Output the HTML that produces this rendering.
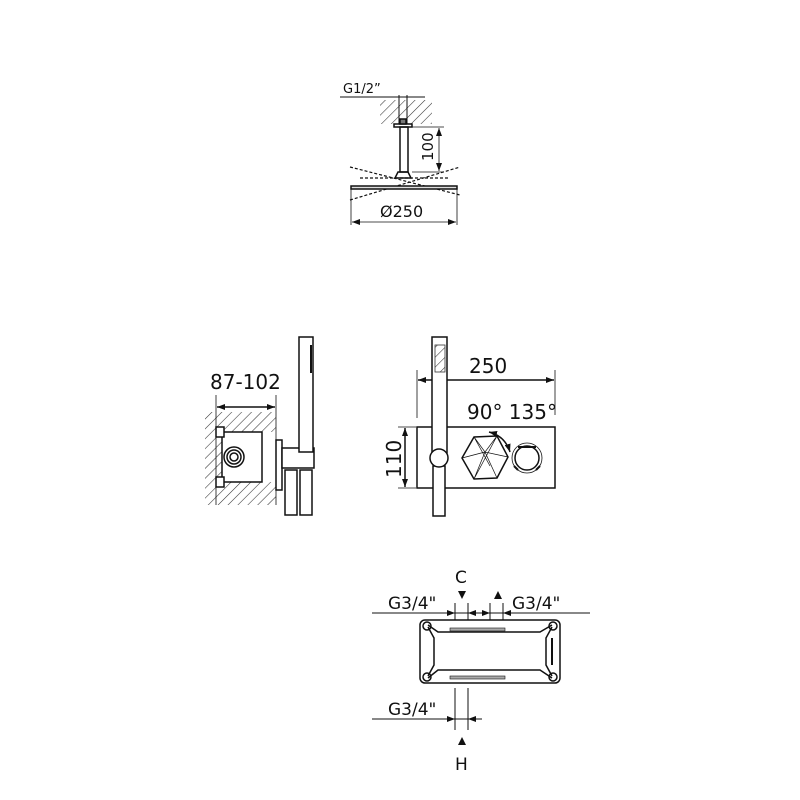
<!DOCTYPE html>
<html><head><meta charset="utf-8"><style>
html,body{margin:0;padding:0;background:#fff;}
svg{display:block;}
text{font-family:"DejaVu Sans","Liberation Sans",sans-serif;fill:#111;}
</style></head><body>
<svg width="800" height="800" viewBox="0 0 800 800" xmlns="http://www.w3.org/2000/svg">
<defs>
<pattern id="h" width="7" height="7" patternUnits="userSpaceOnUse" patternTransform="rotate(45)">
<line x1="0" y1="0" x2="0" y2="7" stroke="#333" stroke-width="1.1"/></pattern>
<marker id="a" markerWidth="8" markerHeight="6" refX="8" refY="3" orient="auto-start-reverse" markerUnits="userSpaceOnUse">
<path d="M0,0 L8,3 L0,6z" fill="#111"/></marker>
</defs>
<g stroke="#111" fill="none" stroke-width="1.5">
<!-- TOP -->
<rect x="380" y="100" width="52" height="24" fill="url(#h)" stroke="none"/>
<line x1="340" y1="97" x2="425" y2="97" stroke-width="1"/>
<line x1="399" y1="95" x2="399" y2="124" stroke-width="1"/><line x1="407" y1="95" x2="407" y2="124" stroke-width="1"/>
<rect x="394" y="124" width="18" height="3"/>
<rect x="400" y="119" width="6" height="5" fill="#777"/>
<rect x="400" y="127" width="8" height="45"/>
<path d="M398,172 h10 l3,6 h-16z"/>
<line x1="412" y1="127" x2="444" y2="127" stroke-width="0.8"/>
<line x1="412" y1="172" x2="444" y2="172" stroke-width="0.8"/>
<line x1="439" y1="128" x2="439" y2="171" marker-start="url(#a)" marker-end="url(#a)" stroke-width="0.8"/>
<g stroke-dasharray="3,2" stroke-width="1.2">
<line x1="350" y1="167" x2="460" y2="195"/><line x1="350" y1="200" x2="460" y2="167"/>
<line x1="355" y1="187" x2="455" y2="187"/>
<line x1="360" y1="178" x2="450" y2="178"/>
</g>
<rect x="351" y="186" width="106" height="3" fill="#ddd"/>
<line x1="351" y1="186" x2="351" y2="225" stroke-width="0.8"/>
<line x1="457" y1="186" x2="457" y2="225" stroke-width="0.8"/>
<line x1="352" y1="222" x2="456" y2="222" marker-start="url(#a)" marker-end="url(#a)" stroke-width="0.8"/>
<!-- MIDDLE LEFT -->
<rect x="205" y="412" width="17" height="93" fill="url(#h)" stroke="none"/>
<rect x="222" y="412" width="54" height="20" fill="url(#h)" stroke="none"/>
<rect x="222" y="482" width="54" height="23" fill="url(#h)" stroke="none"/>
<line x1="216" y1="395" x2="216" y2="505" stroke-width="0.8"/>
<line x1="276" y1="395" x2="276" y2="505" stroke-width="0.8"/>
<line x1="217" y1="407" x2="275" y2="407" marker-start="url(#a)" marker-end="url(#a)"/>
<rect x="222" y="432" width="40" height="50" fill="#fff"/>
<rect x="216" y="427" width="8" height="10" fill="#fff"/>
<rect x="216" y="477" width="8" height="10" fill="#fff"/>
<circle cx="234" cy="457" r="10"/><circle cx="234" cy="457" r="7"/><circle cx="234" cy="457" r="4"/>
<rect x="276" y="440" width="6" height="50" fill="#fff"/>
<rect x="282" y="448" width="32" height="20" fill="#fff"/>
<rect x="299" y="337" width="14" height="115" fill="#fff"/>
<line x1="311" y1="345" x2="311" y2="373" stroke-width="2"/>
<rect x="285" y="470" width="12" height="45" fill="#fff"/>
<rect x="300" y="470" width="12" height="45" fill="#fff"/>
<!-- MIDDLE RIGHT -->
<rect x="417" y="427" width="138" height="61"/>
<line x1="417" y1="370" x2="417" y2="418" stroke-width="0.8"/>
<line x1="555" y1="370" x2="555" y2="415" stroke-width="0.8"/>
<line x1="418" y1="380" x2="554" y2="380" marker-start="url(#a)" marker-end="url(#a)"/>
<line x1="398" y1="427" x2="416" y2="427" stroke-width="0.8"/>
<line x1="398" y1="488" x2="416" y2="488" stroke-width="0.8"/>
<line x1="405" y1="428" x2="405" y2="487" marker-start="url(#a)" marker-end="url(#a)"/>
<rect x="432" y="337" width="15" height="116" fill="#fff"/>
<rect x="435" y="345" width="10" height="27" fill="url(#h)" stroke="#333" stroke-width="0.8"/>
<rect x="433" y="466" width="12" height="50" fill="#fff"/>
<circle cx="439" cy="458" r="9" fill="#fff"/>
<polygon points="462,458 474,437 497,436 508,457 497,478 474,479"/>
<path d="M474,437 L485,452 L462,458 M497,436 L485,452 L497,478 M508,457 L485,452 L474,479 M474,437 L490,466 M474,479 L497,436" stroke-width="0.7"/>
<path d="M489,432 Q505,436 510,452" marker-start="url(#a)" marker-end="url(#a)"/>
<circle cx="527" cy="458" r="12"/><circle cx="527" cy="458" r="15" stroke-width="0.8"/>
<path d="M518,447 L536,447" stroke-width="2"/>
<path d="M514,466 L518,470 M540,466 L536,470" stroke-width="2"/>
<!-- BOTTOM -->
<rect x="420" y="620" width="140" height="63" rx="5"/>
<path d="M428,625 L438,632 H540 L552,625 M428,678 L438,670 H540 L552,678 M428,627 L434,638 V665 L428,676 M552,627 L546,638 V665 L552,676"/>
<circle cx="427" cy="626" r="4"/><circle cx="553" cy="626" r="4"/><circle cx="427" cy="677" r="4"/><circle cx="553" cy="677" r="4"/>
<rect x="450" y="628" width="55" height="3" fill="#aaa" stroke-width="0.6"/>
<rect x="450" y="676" width="55" height="3" fill="#aaa" stroke-width="0.6"/>
<line x1="552" y1="638" x2="552" y2="665" stroke-width="2"/>
<line x1="372" y1="613" x2="590" y2="613" stroke-width="1"/>
<line x1="455" y1="603" x2="455" y2="620" stroke-width="1"/><line x1="468" y1="603" x2="468" y2="620" stroke-width="1"/>
<line x1="490" y1="603" x2="490" y2="620" stroke-width="1"/><line x1="503" y1="603" x2="503" y2="620" stroke-width="1"/>
<line x1="372" y1="719" x2="482" y2="719" stroke-width="1"/>
<line x1="455" y1="688" x2="455" y2="730" stroke-width="1"/><line x1="468" y1="688" x2="468" y2="730" stroke-width="1"/>
</g>
<g fill="#111">
<path d="M447,610 L455,613 L447,616z M476,610 L468,613 L476,616z M482,610 L490,613 L482,616z M511,610 L503,613 L511,616z"/>
<path d="M447,716 L455,719 L447,722z M476,716 L468,719 L476,722z"/>
<path d="M458,591 L466,591 L462,599z M494,599 L502,599 L498,591z M458,745 L466,745 L462,737z"/>
</g>
<text x="343" y="93" font-size="13">G1/2”</text>
<text x="0" y="0" font-size="15" transform="translate(433,161) rotate(-90)">100</text>
<text x="380" y="217" font-size="16">Ø250</text>
<text x="210" y="389" font-size="20">87-102</text>
<text x="469" y="373" font-size="20">250</text>
<text x="467" y="419" font-size="20">90° 135°</text>
<text x="0" y="0" font-size="20" transform="translate(401,478) rotate(-90)">110</text>
<text x="455" y="583" font-size="17">C</text>
<text x="388" y="609" font-size="17">G3/4"</text>
<text x="512" y="609" font-size="17">G3/4"</text>
<text x="388" y="715" font-size="17">G3/4"</text>
<text x="455" y="770" font-size="17">H</text>
</svg>
</body></html>
